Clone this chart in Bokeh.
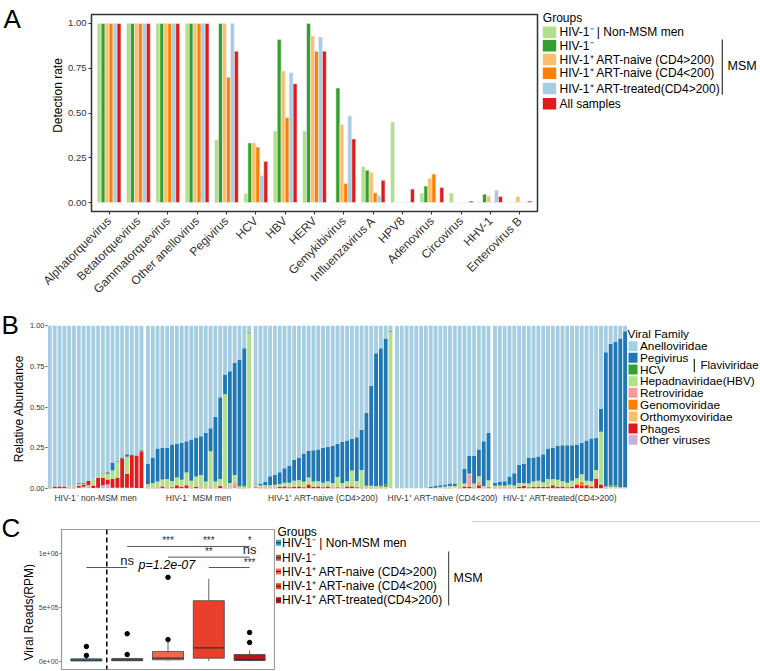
import math
from bokeh.plotting import figure
from bokeh.layouts import column, row
from bokeh.models import ColumnDataSource, FixedTicker, Range1d, Span, NumeralTickFormatter
from bokeh.core.properties import value
from bokeh.embed import file_html
from bokeh.resources import INLINE

FONT = "Liberation Sans"

# ---------------- Panel A data ----------------
A_CATEGORIES = ["Alphatorquevirus", "Betatorquevirus", "Gammatorquevirus", "Other anellovirus",
                "Pegivirus", "HCV", "HBV", "HERV", "Gemykibivirus", "Influenzavirus A",
                "HPV8", "Adenovirus", "Circovirus", "HHV-1", "Enterovirus B"]
A_SERIES_NAMES = ["HIV-1\u207b | Non-MSM men", "HIV-1\u207b", "HIV-1\u207a ART-naive  (CD4>200)",
                  "HIV-1\u207a ART-naive  (CD4<200)", "HIV-1\u207a ART-treated(CD4>200)", "All samples"]
A_NON_MSM = [1, 1, 1, 1, 0.35, 0.05, 0.40, 0.40, 0.0, 0.20, 0.45, 0.052, 0.052, 0.0, 0.0]
A_HIV_NEG = [1, 1, 1, 1, 1.0, 0.333, 0.91, 1.0, 0.64, 0.18, 0.0, 0.092, 0.0, 0.047, 0.0]
A_NAIVE_HI = [1, 1, 1, 1, 1.0, 0.333, 0.735, 0.93, 0.435, 0.168, 0.0, 0.135, 0.0, 0.036, 0.034]
A_NAIVE_LO = [1, 1, 1, 1, 0.70, 0.31, 0.475, 0.845, 0.107, 0.054, 0.0, 0.159, 0.0, 0.0, 0.0]
A_TREATED = [1, 1, 1, 1, 1.0, 0.15, 0.725, 0.925, 0.484, 0.036, 0.0, 0.0, 0.0, 0.069, 0.0]
A_ALL = [1, 1, 1, 1, 0.845, 0.23, 0.664, 0.845, 0.355, 0.125, 0.075, 0.084, 0.008, 0.034, 0.008]
A_SERIES = [A_NON_MSM, A_HIV_NEG, A_NAIVE_HI, A_NAIVE_LO, A_TREATED, A_ALL]
A_COLORS = ["#B2DF8A", "#33A02C", "#FDBF6F", "#FF7F00", "#A6CEE3", "#E31A1C"]
A_YTICKS = [0, 0.25, 0.5, 0.75, 1.0]

# ---------------- Panel B data ----------------
B_GROUP_LABELS = ["HIV-1\u207b non-MSM men", "HIV-1\u207b MSM men", "HIV-1\u207a ART-naive (CD4>200)",
                  "HIV-1\u207a ART-naive (CD4<200)", "HIV-1\u207a ART-treated(CD4>200)"]
B_GROUP_SIZES = [20, 22, 29, 20, 28]
B_FAMILIES = ["Anelloviridae", "Pegivirus", "HCV", "Hepadnaviridae(HBV)", "Retroviridae",
              "Genomoviridae", "Orthomyxoviridae", "Phages", "Other viruses"]
B_COLORS = ["#A6CEE3", "#1F78B4", "#33A02C", "#B2DF8A", "#FB9A99", "#FF7F00", "#FDBF6F", "#E31A1C", "#CAB2D6"]

B_OTHER = [0, 0, 0, 0, 0, 0, 0.004, 0.01, 0.022, 0.003, 0.004, 0.02, 0.025, 0.005, 0.005, 0.005, 0.005, 0.005, 0.003, 0.003,
           0, 0, 0, 0, 0, 0, 0, 0, 0, 0, 0, 0, 0, 0, 0, 0, 0, 0, 0.008, 0, 0, 0,
           0.004, 0, 0, 0, 0, 0, 0, 0, 0, 0, 0, 0, 0, 0, 0, 0, 0, 0, 0, 0, 0, 0, 0, 0, 0, 0, 0, 0, 0,
           0, 0, 0, 0, 0, 0, 0, 0, 0, 0, 0, 0, 0, 0, 0, 0, 0, 0, 0, 0,
           0, 0, 0, 0, 0, 0, 0, 0, 0, 0, 0, 0, 0, 0, 0, 0, 0, 0, 0, 0, 0, 0, 0, 0, 0, 0, 0, 0]
B_PHAGE = [0.003, 0.012, 0.012, 0.013, 0.004, 0.004, 0.012, 0.015, 0.024, 0.015, 0.062, 0.045, 0.03, 0.055, 0.06, 0.18, 0.085, 0.195, 0.2, 0.225,
           0.003, 0.005, 0.005, 0.012, 0.005, 0.008, 0.02, 0.01, 0.02, 0.005, 0.01, 0.005, 0.005, 0.005, 0.005, 0.015, 0.005, 0.005, 0.005, 0.005, 0.005, 0.002,
           0.004, 0.004, 0.005, 0.005, 0.005, 0.01, 0.012, 0.008, 0.01, 0.012, 0.008, 0.025, 0.01, 0.012, 0.008, 0.012, 0.005, 0.008, 0.005, 0.012, 0.012, 0.008, 0.005, 0.004, 0.004, 0.004, 0.004, 0.003, 0,
           0, 0, 0, 0, 0, 0, 0, 0, 0.002, 0, 0.005, 0.005, 0, 0.005, 0.01, 0.01, 0.005, 0.02, 0.005, 0.008,
           0.004, 0.004, 0.004, 0.005, 0.005, 0.01, 0.015, 0.008, 0.01, 0.01, 0.01, 0.01, 0.02, 0.01, 0.012, 0.008, 0.01, 0.025, 0.015, 0.02, 0.01, 0.06, 0.025, 0.005, 0.002, 0.002, 0.002, 0.002]
B_ORTHO = [0, 0, 0, 0, 0, 0, 0, 0, 0, 0, 0, 0, 0, 0, 0, 0, 0, 0, 0, 0,
           0, 0, 0, 0, 0, 0, 0, 0, 0, 0, 0, 0, 0, 0, 0, 0, 0, 0, 0, 0, 0, 0,
           0, 0, 0, 0, 0, 0, 0, 0, 0, 0, 0, 0, 0, 0, 0, 0, 0, 0, 0, 0, 0, 0, 0, 0, 0, 0, 0, 0, 0,
           0, 0, 0, 0, 0, 0, 0, 0, 0, 0, 0, 0, 0, 0, 0, 0, 0, 0, 0, 0,
           0, 0, 0, 0, 0, 0, 0, 0, 0, 0, 0, 0, 0, 0, 0, 0, 0, 0, 0, 0, 0, 0, 0, 0, 0, 0, 0, 0]
B_GENOMO = [0, 0, 0, 0, 0, 0, 0, 0, 0, 0, 0, 0, 0, 0, 0, 0, 0, 0, 0, 0,
            0, 0, 0, 0, 0, 0, 0, 0, 0, 0, 0, 0, 0, 0, 0, 0, 0, 0, 0, 0, 0, 0,
            0, 0, 0, 0, 0, 0, 0, 0, 0, 0, 0, 0, 0, 0, 0, 0, 0, 0, 0, 0, 0, 0, 0, 0, 0, 0, 0, 0, 0,
            0, 0, 0, 0, 0, 0, 0, 0, 0, 0, 0, 0, 0, 0, 0, 0, 0, 0, 0, 0,
            0, 0, 0, 0, 0, 0, 0, 0, 0, 0, 0, 0, 0, 0, 0, 0, 0, 0, 0.025, 0, 0, 0, 0, 0, 0, 0, 0, 0]
B_RETRO = [0, 0, 0, 0, 0.004, 0, 0.004, 0, 0, 0, 0, 0.004, 0, 0, 0, 0, 0, 0, 0, 0,
           0.003, 0.003, 0.003, 0.003, 0.003, 0.003, 0.003, 0.003, 0.003, 0.003, 0.003, 0.003, 0.003, 0.003, 0.003, 0.003, 0.003, 0.003, 0.02, 0.003, 0.003, 0,
           0.01, 0.006, 0.003, 0.003, 0.003, 0.003, 0.003, 0.003, 0.003, 0.003, 0.003, 0.003, 0.003, 0.003, 0.003, 0.003, 0.003, 0.003, 0.003, 0.003, 0.003, 0.003, 0.003, 0.003, 0.003, 0.003, 0.003, 0.003, 0,
           0, 0, 0, 0, 0, 0, 0, 0, 0, 0.003, 0, 0, 0.005, 0, 0.005, 0.075, 0.005, 0.025, 0, 0.002,
           0.003, 0.003, 0.003, 0.003, 0.003, 0.003, 0.003, 0.003, 0.003, 0.003, 0.003, 0.003, 0.003, 0.003, 0.003, 0.003, 0.003, 0.003, 0.003, 0.003, 0.01, 0.003, 0.003, 0.003, 0.003, 0.003, 0.003, 0.003]
B_HBV = [0, 0, 0, 0, 0.004, 0.014, 0.006, 0.002, 0, 0.037, 0.01, 0.025, 0.035, 0.05, 0.10, 0, 0.105, 0, 0.003, 0.003,
         0.02, 0.025, 0.035, 0.04, 0.05, 0.035, 0.045, 0.04, 0.075, 0.04, 0.06, 0.075, 0.035, 0.22, 0.035, 0.04, 0.57, 0.025, 0.05, 0.005, 0.005, 0.955,
         0.008, 0.008, 0.012, 0.012, 0.015, 0.015, 0.02, 0.025, 0.035, 0.035, 0.03, 0.04, 0.03, 0.03, 0.025, 0.03, 0.025, 0.06, 0.025, 0.03, 0.095, 0.035, 0.105, 0.01, 0.008, 0.008, 0.005, 0.005, 0.96,
         0, 0, 0, 0, 0, 0, 0, 0.002, 0.003, 0.005, 0.008, 0.01, 0.01, 0.04, 0.015, 0.005, 0.02, 0.03, 0.01, 0.04,
         0.01, 0.012, 0.01, 0.015, 0.01, 0.02, 0.015, 0.02, 0.03, 0.035, 0.025, 0.045, 0.035, 0.04, 0.03, 0.025, 0.035, 0.035, 0.045, 0.025, 0.025, 0.05, 0.32, 0.005, 0.005, 0.005, 0.003, 0.003]
B_HCV = [0, 0, 0, 0, 0, 0, 0.004, 0.002, 0, 0, 0, 0, 0, 0, 0, 0, 0, 0, 0, 0.002,
         0, 0, 0, 0, 0, 0, 0, 0, 0, 0, 0, 0, 0, 0, 0, 0, 0, 0, 0, 0.008, 0.008, 0,
         0, 0, 0, 0, 0, 0, 0, 0, 0, 0, 0, 0, 0, 0, 0, 0, 0, 0, 0, 0, 0, 0, 0, 0, 0.003, 0, 0.005, 0.015, 0,
         0, 0, 0, 0, 0, 0, 0, 0, 0, 0, 0, 0, 0, 0, 0, 0, 0, 0, 0, 0,
         0, 0, 0, 0, 0, 0, 0, 0, 0, 0, 0, 0, 0, 0, 0, 0, 0, 0, 0, 0, 0, 0, 0, 0, 0.01, 0.01, 0, 0]
B_PEG = [0, 0, 0, 0, 0, 0, 0.005, 0.006, 0, 0, 0, 0.002, 0.01, 0.05, 0.005, 0.005, 0.015, 0.005, 0.002, 0.005,
         0.124, 0.157, 0.202, 0.195, 0.192, 0.224, 0.207, 0.227, 0.192, 0.252, 0.237, 0.237, 0.297, 0.142, 0.397, 0.502, 0.122, 0.687, 0.687, 0.769, 0.839, 0.005,
         0.005, 0.012, 0.02, 0.055, 0.062, 0.072, 0.09, 0.104, 0.127, 0.14, 0.174, 0.162, 0.192, 0.195, 0.214, 0.21, 0.227, 0.204, 0.252, 0.25, 0.195, 0.269, 0.247, 0.448, 0.612, 0.815, 0.843, 0.894, 0.005,
         0, 0, 0, 0, 0, 0, 0, 0.008, 0.01, 0.012, 0.012, 0.015, 0.015, 0, 0.09, 0.11, 0.17, 0.165, 0.275, 0.29,
         0.018, 0.021, 0.028, 0.05, 0.075, 0.112, 0.117, 0.156, 0.147, 0.149, 0.172, 0.187, 0.192, 0.21, 0.22, 0.229, 0.217, 0.207, 0.192, 0.247, 0.262, 0.197, 0.142, 0.823, 0.868, 0.88, 0.912, 0.957]

# ---------------- Panel C data ----------------
C_GROUP_NAMES = ["HIV-1\u207b | Non-MSM men", "HIV-1\u207b", "HIV-1\u207a ART-naive  (CD4>200)",
                 "HIV-1\u207a ART-naive  (CD4<200)", "HIV-1\u207a ART-treated(CD4>200)"]
C_COLORS = ["#2FA4DC", "#A0624F", "#F2684B", "#EA3F2B", "#B5161B"]
C_Q1 = [2e3, 4e3, 13e3, 28e3, 6e3]
C_MED = [10e3, 12e3, 28e3, 124e3, 15e3]
C_Q3 = [22e3, 25e3, 90e3, 560e3, 62e3]
C_LO = [0, 0, 4e3, 2e3, 0]
C_HI = [40e3, 30e3, 200e3, 763e3, 99e3]
C_OUT_X = [1, 1, 2, 2, 3, 3, 5, 5]
C_OUT_Y = [53e3, 136e3, 62e3, 254e3, 200e3, 776e3, 173e3, 266e3]
C_SIG_X0 = [2, 3, 4, 1]
C_SIG_X1 = [5, 5, 5, 2]
C_SIG_Y = [1062e3, 963e3, 867e3, 867e3]
C_STAR_X = [3, 4, 5, 4, 5]
C_STAR_Y = [1062e3, 1062e3, 1062e3, 963e3, 867e3]
C_STAR_TEXT = ["***", "***", "*", "**", "***"]
C_NS_X = [5, 2]
C_NS_Y = [963e3, 867e3]
C_PVALUE = "p=1.2e-07"
C_PVALUE_POS = (2.28, 886e3)
C_YTICKS = [0, 500000, 1000000]
C_YLABELS = {0: "0e+00", 500000: "5e+05", 1000000: "1e+06"}


def base_style(p):
    p.xgrid.visible = False
    p.ygrid.visible = False
    p.background_fill_color = "white"
    p.border_fill_color = "white"


def deco(x0, x1, y0, y1, xr=None):
    """Axis-free figure; y (and by default x) coordinates are page pixels."""
    p = figure(frame_width=x1 - x0, frame_height=y1 - y0,
               x_range=Range1d(*(xr if xr else (x0, x1))), y_range=Range1d(y1, y0),
               min_border=0, x_axis_location=None, y_axis_location=None, toolbar_location=None,
               output_backend="svg")
    base_style(p)
    p.outline_line_color = None
    return p


def txt(p, x, y, s, size, align="left", angle=0.0, style="normal", color="black"):
    p.text(x=[x], y=[y], text=[s], text_font=value(FONT), text_font_size=f"{size}px",
           text_align=align, text_baseline="middle", angle=angle, text_font_style=style,
           text_color=color)


def sw(p, x0, y0, x1, y1, color):
    p.quad(left=[x0], right=[x1], top=[y0], bottom=[y1], fill_color=color, line_color=None)


# ================= Panel A (page rows 0-305) =================
A_XR = (0.4, 15.6)
A_FRAME_L, A_FRAME_W = 91, 446
pos = list(range(1, len(A_CATEGORIES) + 1))
pA = figure(frame_width=A_FRAME_W, frame_height=197, x_range=A_XR, y_range=(-0.05, 1.05),
            output_backend="svg", toolbar_location=None,
            min_border_left=27, min_border_right=2, min_border_top=14, min_border_bottom=4)
base_style(pA)
pA.outline_line_color = "#333333"
pA.outline_line_width = 1.5
bw = 0.135
nser = len(A_SERIES)
for i, (vals, col) in enumerate(zip(A_SERIES, A_COLORS)):
    off = (i - (nser - 1) / 2) * bw
    pA.vbar(x=[c + off for c in pos], top=vals, width=bw, fill_color=col,
            line_color="#eeeeee", line_width=0.6)
pA.xaxis.ticker = FixedTicker(ticks=pos)
pA.xaxis.major_label_overrides = {c: "" for c in pos}
pA.xaxis.major_label_text_font_size = "1px"
pA.xaxis.major_label_standoff = 0
pA.yaxis.ticker = FixedTicker(ticks=A_YTICKS)
pA.yaxis.formatter = NumeralTickFormatter(format="0.00")
for ax in (pA.xaxis, pA.yaxis):
    ax.axis_line_color = None
    ax.major_tick_out = 3
    ax.major_tick_in = 0
    ax.minor_tick_line_color = None
    ax.major_tick_line_color = "#333333"
    ax.major_label_text_font = FONT
    ax.major_label_text_color = "#333333"
pA.yaxis.major_label_text_font_size = "9.5px"
pA.yaxis.major_label_standoff = 2

sA = deco(0, 64, 0, 215)
txt(sA, 3, 18, "A", 26)
txt(sA, 57, 95, "Detection rate", 12, align="center", angle=math.pi / 2)

lA = deco(539, 760, 0, 215)
txt(lA, 542.3, 17.5, "Groups", 12)
A_ROWS = [31.7, 45.3, 59.0, 72.7, 88.0, 103.3]
for yy, name, col in zip(A_ROWS, A_SERIES_NAMES, A_COLORS):
    sw(lA, 542.3, yy - 5.7, 555.7, yy + 5.7, col)
    txt(lA, 559, yy, name, 12)
sw(lA, 721.2, 39, 722.4, 94.3, "#333333")
txt(lA, 727, 65.7, "MSM", 12.5)

# category labels of panel A: same data scale as pA, drawn rotated 45 degrees under the ticks
ppx = (A_XR[1] - A_XR[0]) / A_FRAME_W
xlA = deco(0, 760, 215, 305, xr=(A_XR[0] - A_FRAME_L * ppx, A_XR[0] + (760 - A_FRAME_L) * ppx))
xlA.text(x=pos, y=[218.5] * len(pos), text=A_CATEGORIES, angle=math.pi / 4, text_font=value(FONT),
         text_font_size="12px", text_align="right", text_baseline="middle", text_color="#333333")

# ================= Panel B (page rows 305-505) =================
GAP = 0.35
xs = []
centers = []
k = 0
for g, n in enumerate(B_GROUP_SIZES):
    gx = [k + i + g * GAP for i in range(n)]
    xs += gx
    centers.append(round((gx[0] + gx[-1]) / 2, 3))
    k += n
B_ANELLO = [round(1 - (a + b + c + d + e + f + g + h), 4) for a, b, c, d, e, f, g, h in
            zip(B_OTHER, B_PHAGE, B_ORTHO, B_GENOMO, B_RETRO, B_HBV, B_HCV, B_PEG)]
srcB = ColumnDataSource(dict(x=xs, other=B_OTHER, phage=B_PHAGE, ortho=B_ORTHO, genomo=B_GENOMO,
                             retro=B_RETRO, hbv=B_HBV, hcv=B_HCV, peg=B_PEG, anello=B_ANELLO))
stack_keys = ["other", "phage", "ortho", "genomo", "retro", "hbv", "hcv", "peg", "anello"]
stack_cols = ["#CAB2D6", "#E31A1C", "#FDBF6F", "#FF7F00", "#FB9A99", "#B2DF8A", "#33A02C", "#1F78B4", "#A6CEE3"]

pB = figure(frame_width=580, frame_height=163, x_range=(-0.5, xs[-1] + 0.5), y_range=(0, 1),
            output_backend="svg", toolbar_location=None,
            min_border_left=19, min_border_right=0, min_border_top=20, min_border_bottom=17)
base_style(pB)
pB.outline_line_color = None
pB.vbar_stack(stack_keys, x="x", width=0.8, color=stack_cols, line_color=None, source=srcB)
pB.xaxis.ticker = FixedTicker(ticks=centers)
pB.xaxis.major_label_overrides = {c: n for c, n in zip(centers, B_GROUP_LABELS)}
pB.yaxis.ticker = FixedTicker(ticks=A_YTICKS)
pB.yaxis.formatter = NumeralTickFormatter(format="0.00")
for ax in (pB.xaxis, pB.yaxis):
    ax.axis_line_color = None
    ax.minor_tick_line_color = None
    ax.major_tick_in = 0
    ax.major_label_text_font = FONT
    ax.major_label_text_color = "#333333"
pB.xaxis.major_tick_out = 0
pB.xaxis.major_label_text_font_size = "8.5px"
pB.xaxis.major_label_standoff = 4
pB.yaxis.major_tick_out = 2
pB.yaxis.major_tick_line_color = "#555555"
pB.yaxis.major_label_text_font_size = "7.5px"
pB.yaxis.major_label_standoff = 1

sB = deco(0, 26, 305, 505)
txt(sB, 1, 324, "B", 26)
txt(sB, 18.5, 408, "Relative Abundance", 12, align="center", angle=math.pi / 2)

lB = deco(625, 760, 305, 505)
txt(lB, 625, 333.3, "Viral Family", 11.8)
B_ROWS = [345.7, 357.3, 369.0, 380.7, 392.3, 404.3, 416.0, 428.0, 439.3]
for yy, name, col in zip(B_ROWS, B_FAMILIES, B_COLORS):
    sw(lB, 626, yy - 5, 635, yy + 5, col)
    txt(lB, 637.5, yy, name, 11.8)
sw(lB, 691.2, 358.5, 692.4, 371.7, "#222222")
txt(lB, 698, 364.3, "Flaviviridae", 11.5)

# ================= Panel C (page rows 505-671) =================
pC = figure(frame_width=213, frame_height=140, x_range=(0.39, 5.61), y_range=(-77e3, 1219e3),
            output_backend="svg", toolbar_location=None, x_axis_location=None,
            min_border_left=24, min_border_right=1, min_border_top=24, min_border_bottom=2)
base_style(pC)
pC.outline_line_color = "#9a9a9a"
pC.outline_line_width = 1.2
gxC = [1, 2, 3, 4, 5]
bwC = 0.76
pC.segment(x0=gxC, y0=C_Q3, x1=gxC, y1=C_HI, line_color="#666666", line_width=1)
pC.segment(x0=gxC, y0=C_LO, x1=gxC, y1=C_Q1, line_color="#666666", line_width=1)
pC.vbar(x=gxC, bottom=C_Q1, top=C_Q3, width=bwC, fill_color=C_COLORS, line_color="#444444", line_width=0.8)
pC.segment(x0=[v - bwC / 2 for v in gxC], y0=C_MED, x1=[v + bwC / 2 for v in gxC], y1=C_MED,
           line_color="#333333", line_width=1.3)
pC.scatter(x=C_OUT_X, y=C_OUT_Y, size=4.5, color="black")
pC.add_layout(Span(location=1.5, dimension="height", line_color="black", line_width=1.5, line_dash="5 3"))
pC.segment(x0=C_SIG_X0, y0=C_SIG_Y, x1=C_SIG_X1, y1=C_SIG_Y, line_color="#555555", line_width=1)
pC.text(x=C_STAR_X, y=C_STAR_Y, text=C_STAR_TEXT, text_font=value(FONT), text_font_size="10px",
        text_align="center", text_baseline="bottom", text_color="#333333")
pC.text(x=C_NS_X, y=C_NS_Y, text=["ns", "ns"], text_font=value(FONT), text_font_size="13px",
        text_align="center", text_baseline="bottom", text_color="#222222")
pC.text(x=[C_PVALUE_POS[0]], y=[C_PVALUE_POS[1]], text=[C_PVALUE], text_font=value(FONT),
        text_font_size="12.5px", text_font_style="italic", text_align="left", text_baseline="middle")
pC.yaxis.ticker = FixedTicker(ticks=C_YTICKS)
pC.yaxis.major_label_overrides = C_YLABELS
pC.yaxis.axis_line_color = None
pC.yaxis.minor_tick_line_color = None
pC.yaxis.major_tick_in = 0
pC.yaxis.major_tick_out = 2
pC.yaxis.major_tick_line_color = "#777777"
pC.yaxis.major_label_text_font = FONT
pC.yaxis.major_label_text_font_size = "7px"
pC.yaxis.major_label_text_color = "#444444"
pC.yaxis.major_label_standoff = 1

sC = deco(0, 35, 505, 671)
txt(sC, 1, 527, "C", 26)
txt(sC, 28.5, 611.7, "Viral Reads(RPM)", 12, align="center", angle=math.pi / 2)

lC = deco(273, 760, 505, 671)
txt(lC, 275, 531.7, "Groups", 12)
C_ROWS = [542.3, 557.3, 571.0, 585.7, 599.7]
for yy, name, col in zip(C_ROWS, C_GROUP_NAMES, C_COLORS):
    sw(lC, 273.5, yy - 3, 278.5, yy + 3, col)
    sw(lC, 273.5, yy - 0.5, 278.5, yy + 0.5, "#222222")
    txt(lC, 279.5, yy, name, 12)
sw(lC, 445.5, 551, 446.7, 605, "#555555")
txt(lC, 451, 577.3, "MSM", 12.5)
sw(lC, 470, 520.5, 760, 521.5, "#cfcfcf")

layout = column(row(column(sA), pA, column(lA), spacing=0),
                column(xlA),
                row(column(sB), pB, column(lB), spacing=0),
                row(column(sC), pC, column(lC), spacing=0),
                spacing=0)
open("out.html", "w").write(file_html(layout, INLINE))
